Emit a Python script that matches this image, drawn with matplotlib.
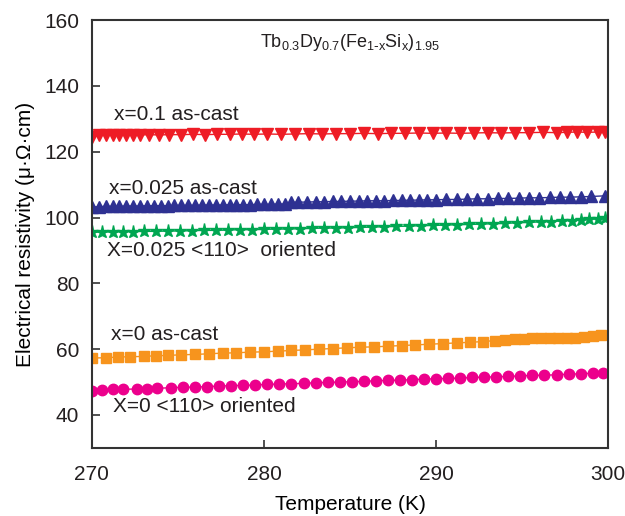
import matplotlib
matplotlib.use('Agg')
import matplotlib.pyplot as plt

plt.rcParams['font.family'] = ['Liberation Sans', 'DejaVu Sans']
plt.rcParams['mathtext.default'] = 'regular'
plt.rcParams['text.color'] = '#231f20'

# x=0.1 as-cast
t_red = [270.0, 270.4, 270.8, 271.2, 271.6, 272.0, 272.4, 272.8, 273.3, 273.9,
         274.5, 275.2, 275.9, 276.6, 277.3, 278.0, 278.7, 279.4, 280.2, 281.0,
         281.8, 282.6, 283.4, 284.2, 285.0, 285.8, 286.6, 287.4, 288.2, 289.0,
         289.8, 290.6, 291.4, 292.2, 293.0, 293.8, 294.6, 295.4, 296.2, 297.0,
         297.6, 298.2, 298.8, 299.4, 299.8]
r_red = [124.4, 125.0, 125.1, 125.0, 125.1, 125.1, 125.2, 125.1, 125.2, 125.1,
         125.2, 125.2, 125.3, 125.2, 125.3, 125.3, 125.4, 125.3, 125.4, 125.3,
         125.4, 125.5, 125.4, 125.5, 125.5, 125.6, 125.5, 125.6, 125.6, 125.7,
         125.6, 125.7, 125.6, 125.7, 125.8, 125.7, 125.8, 125.8, 125.9, 125.8,
         125.9, 126.0, 125.9, 126.0, 125.9]

# x=0.025 as-cast
t_blue = [270.0, 270.4, 270.8, 271.2, 271.6, 272.0, 272.4, 272.8, 273.2, 273.6,
          274.0, 274.4, 274.8, 275.2, 275.6, 276.0, 276.4, 276.8, 277.2, 277.6,
          278.0, 278.4, 278.8, 279.2, 279.6, 280.0, 280.4, 280.8, 281.2, 281.6,
          282.0, 282.5, 283.0, 283.5, 284.0, 284.5, 285.0, 285.5, 286.0, 286.5,
          287.0, 287.5, 288.0, 288.5, 289.0, 289.5, 290.0, 290.6, 291.2, 291.8,
          292.4, 293.0, 293.6, 294.2, 294.8, 295.4, 296.0, 296.6, 297.2, 297.8,
          298.4, 299.0, 299.8]
r_blue = [103.2, 103.3, 103.4, 103.4, 103.4, 103.5, 103.5, 103.5, 103.6, 103.6,
          103.6, 103.6, 103.7, 103.7, 103.7, 103.7, 103.8, 103.8, 103.8, 103.8,
          103.9, 103.9, 103.9, 103.9, 104.0, 104.0, 104.0, 104.1, 104.1, 104.6,
          104.7, 104.7, 104.8, 104.8, 104.9, 104.9, 105.0, 105.0, 105.1, 105.1,
          105.1, 105.2, 105.2, 105.3, 105.3, 105.4, 105.4, 105.5, 105.5, 105.6,
          105.7, 105.7, 105.8, 105.8, 105.9, 106.0, 106.0, 106.1, 106.2, 106.2,
          106.3, 106.4, 106.6]

# X=0.025 <110> oriented
t_green = [270.0, 270.6, 271.2, 271.8, 272.4, 273.0, 273.7, 274.4, 275.1, 275.8,
           276.5, 277.2, 277.9, 278.6, 279.3, 280.0, 280.7, 281.4, 282.1, 282.8,
           283.5, 284.2, 284.9, 285.6, 286.3, 287.0, 287.7, 288.4, 289.1, 289.8,
           290.5, 291.2, 291.9, 292.6, 293.3, 294.0, 294.7, 295.4, 296.1, 296.7,
           297.3, 297.9, 298.4, 298.9, 299.4, 299.8]
r_green = [95.5, 95.6, 95.6, 95.7, 95.7, 95.8, 95.8, 95.9, 95.9, 96.0,
           96.1, 96.1, 96.2, 96.3, 96.3, 96.4, 96.5, 96.5, 96.6, 96.7,
           96.8, 96.8, 96.9, 97.0, 97.1, 97.2, 97.3, 97.4, 97.5, 97.6,
           97.7, 97.8, 97.9, 98.0, 98.1, 98.2, 98.4, 98.5, 98.7, 98.8,
           99.0, 99.1, 99.3, 99.5, 99.7, 99.9]

# x=0 as-cast
t_orange = [270.0, 270.8, 271.5, 272.2, 273.0, 273.7, 274.4, 275.2, 276.0, 276.8,
            277.6, 278.4, 279.2, 280.0, 280.8, 281.6, 282.4, 283.2, 284.0, 284.8,
            285.6, 286.4, 287.2, 288.0, 288.8, 289.6, 290.4, 291.2, 292.0, 292.7,
            293.4, 294.0, 294.6, 295.1, 295.6, 296.1, 296.6, 297.1, 297.6, 298.1,
            298.6, 299.1, 299.6]
r_orange = [57.3, 57.4, 57.6, 57.7, 57.8, 58.0, 58.1, 58.3, 58.4, 58.6,
            58.8, 58.9, 59.1, 59.2, 59.4, 59.6, 59.8, 60.0, 60.2, 60.4,
            60.6, 60.7, 60.9, 61.1, 61.3, 61.5, 61.7, 61.9, 62.1, 62.3,
            62.6, 62.8, 63.0, 63.1, 63.3, 63.3, 63.4, 63.4, 63.5, 63.5,
            63.6, 63.9, 64.3]

# X=0 <110> oriented
t_pink = [270.0, 270.6, 271.2, 271.8, 272.6, 273.2, 273.8, 274.6, 275.3, 276.0,
          276.7, 277.4, 278.1, 278.8, 279.5, 280.2, 280.9, 281.6, 282.3, 283.0,
          283.7, 284.4, 285.1, 285.8, 286.5, 287.2, 287.9, 288.6, 289.3, 290.0,
          290.7, 291.4, 292.1, 292.8, 293.5, 294.2, 294.9, 295.6, 296.3, 297.0,
          297.7, 298.4, 299.1, 299.7]
r_pink = [47.4, 47.6, 47.8, 47.8, 47.9, 48.0, 48.1, 48.3, 48.4, 48.5,
          48.6, 48.8, 48.9, 49.0, 49.1, 49.3, 49.4, 49.5, 49.6, 49.8,
          49.9, 50.0, 50.1, 50.2, 50.4, 50.5, 50.6, 50.7, 50.9, 51.0,
          51.1, 51.2, 51.4, 51.5, 51.6, 51.7, 51.9, 52.0, 52.1, 52.2,
          52.4, 52.5, 52.7, 52.9]

fig = plt.figure(figsize=(6.25, 5.16), dpi=100)
ax = fig.add_axes([0.147, 0.132, 0.826, 0.829])

ax.plot(t_red, r_red, '-v', color='#ee1c25', ms=8.5, lw=1)
ax.plot(t_blue, r_blue, '-^', color='#2e3192', ms=8.5, lw=1)
ax.plot(t_green, r_green, '-*', color='#00a651', ms=9.5, lw=1)
ax.plot(t_orange, r_orange, '-s', color='#f7941d', ms=7.5, lw=1)
ax.plot(t_pink, r_pink, '-o', color='#ec008c', ms=7.5, lw=1)

fs = 15
ax.text(271.3, 131.3, 'x=0.1 as-cast', fontsize=fs, va='center')
ax.text(271.0, 108.7, 'x=0.025 as-cast', fontsize=fs, va='center')
ax.text(270.9, 89.9, 'X=0.025 <110>  oriented', fontsize=fs, va='center')
ax.text(271.1, 64.4, 'x=0 as-cast', fontsize=fs, va='center')
ax.text(271.2, 42.5, 'X=0 <110> oriented', fontsize=fs, va='center')
ax.text(285.0, 153.2, r'Tb$_{0.3}$Dy$_{0.7}$(Fe$_{1\text{-}x}$Si$_x$)$_{1.95}$',
        fontsize=13, ha='center', va='center')

ax.set_xlim(270, 300)
ax.set_ylim(30, 160)
ax.set_xticks([270, 280, 290, 300])
ax.set_yticks([40, 60, 80, 100, 120, 140, 160])
ax.tick_params(direction='in', length=6, width=1.2, labelsize=fs,
               colors='#333333', labelcolor='#231f20')
ax.tick_params(axis='x', pad=12)
ax.tick_params(axis='y', pad=9)
for s in ax.spines.values():
    s.set_linewidth(1.5)
    s.set_color('#333333')

ax.set_xlabel('Temperature (K)', fontsize=fs, labelpad=8)
ax.set_ylabel('Electrical resistivity (\u03bc\u00b7\u03a9\u00b7cm)', fontsize=fs, labelpad=7)

fig.savefig('out.png', dpi=100)
